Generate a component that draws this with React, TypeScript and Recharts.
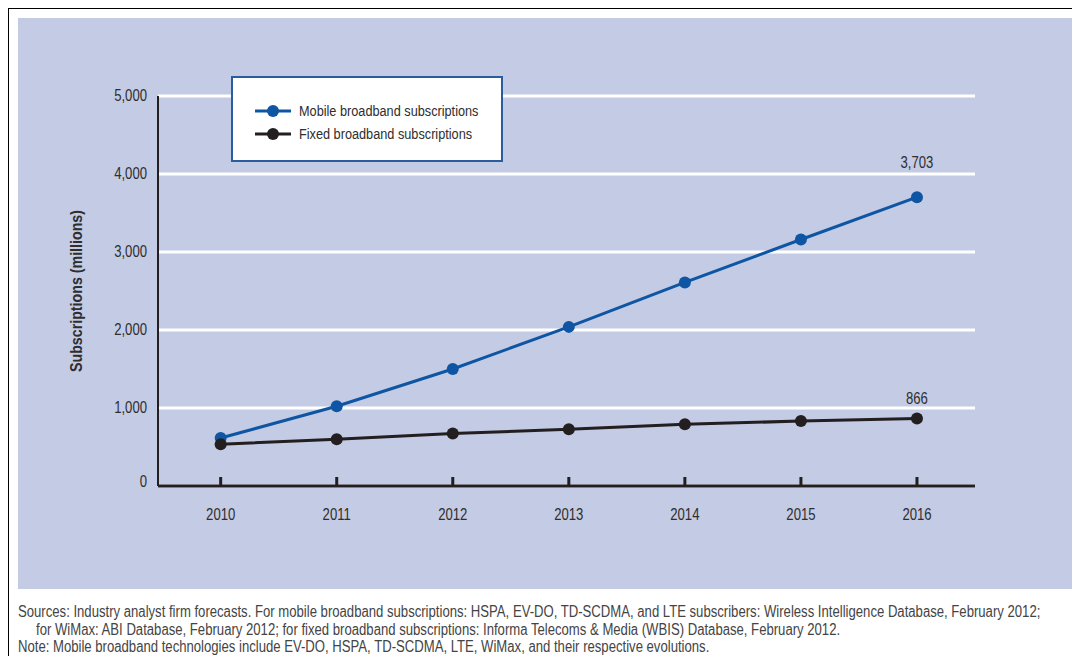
import React from 'react';
import { LineChart, Line, XAxis, YAxis, CartesianGrid } from 'recharts';

// Broadband subscriptions forecast, in millions
const years = [2010, 2011, 2012, 2013, 2014, 2015, 2016];
const mobileSubs = [615, 1022, 1500, 2040, 2610, 3160, 3703];
const fixedSubs = [535, 600, 672, 727, 791, 833, 866];
const yTicks = [0, 1000, 2000, 3000, 4000, 5000];

const seriesKeys = ['mobile', 'fixed'];
const seriesNames = ['Mobile broadband subscriptions', 'Fixed broadband subscriptions'];
const seriesColors = ['#0E56A3', '#231F20'];

const yAxisTitle = 'Subscriptions (millions)';

const footnoteLines = [
  'Sources: Industry analyst firm forecasts. For mobile broadband subscriptions: HSPA, EV-DO, TD-SCDMA, and LTE subscribers: Wireless Intelligence Database, February 2012;',
  'for WiMax: ABI Database, February 2012; for fixed broadband subscriptions: Informa Telecoms & Media (WBIS) Database, February 2012.',
  'Note: Mobile broadband technologies include EV-DO, HSPA, TD-SCDMA, LTE, WiMax, and their respective evolutions.',
];

const chartData = years.map((year, i) => ({
  year,
  mobile: mobileSubs[i],
  fixed: fixedSubs[i],
}));

// Arial-metric face squeezed horizontally to get a narrow look
const FONT = '"Liberation Sans", Arial, sans-serif';
const SQUEEZE = 0.82;
const TEXT = '#2E2E2E';
const PANEL = '#C4CBE4';

const fmt = (v: number) => v.toLocaleString('en-US');

type NarrowProps = {
  x: number;
  y: number;
  anchor?: 'start' | 'middle' | 'end';
  size?: number;
  weight?: string;
  rotate?: number;
  squeeze?: number;
  children: React.ReactNode;
};

const NarrowText = ({ x, y, anchor = 'middle', size = 16, weight = 'normal', rotate = 0, squeeze = SQUEEZE, children }: NarrowProps) => (
  <text
    transform={`translate(${x} ${y}) rotate(${rotate}) scale(${squeeze} 1)`}
    x={0}
    y={0}
    textAnchor={anchor}
    dominantBaseline="central"
    fontFamily={FONT}
    fontSize={size}
    fontWeight={weight}
    fill={TEXT}
  >
    {children}
  </text>
);

const YearTick = (props: any) => {
  const { x, y, payload } = props;
  return (
    <g>
      <line x1={x} x2={x} y1={y} y2={y - 9} stroke="#231F20" strokeWidth={3} />
      <NarrowText x={x} y={y + 29}>{payload.value}</NarrowText>
    </g>
  );
};

const ValueTick = (props: any) => {
  const { x, y, payload } = props;
  const shift = payload.value === 0 ? -4 : 0;
  return (
    <NarrowText x={x - 11} y={y + shift} anchor="end">
      {fmt(payload.value)}
    </NarrowText>
  );
};

const AxisTitle = (props: any) => {
  const { viewBox } = props;
  const cx = viewBox.x - 22;
  const cy = viewBox.y + viewBox.height / 2;
  return (
    <NarrowText x={cx} y={cy} rotate={-90} weight="bold" size={16} squeeze={0.89}>
      {yAxisTitle}
    </NarrowText>
  );
};

// Only the final year carries a value label
const endLabel = (lift: number) => (props: any) => {
  const { x, y, index, value } = props;
  if (index !== years.length - 1) return <g />;
  return (
    <NarrowText x={x} y={y - lift}>
      {fmt(value)}
    </NarrowText>
  );
};

const labelLift = [35, 20];

const squeezed: React.CSSProperties = {
  display: 'inline-block',
  whiteSpace: 'nowrap',
  transform: `scaleX(${SQUEEZE})`,
  transformOrigin: 'left center',
};

const LegendBox = () => (
  <div
    style={{
      position: 'absolute',
      left: 231,
      top: 76,
      width: 268,
      height: 82,
      background: '#FFFFFF',
      border: '2px solid #2A5C9E',
      fontFamily: FONT,
      fontSize: 15.5,
      color: TEXT,
    }}
  >
    {seriesNames.map((name, i) => (
      <div
        key={name}
        style={{ position: 'absolute', left: 22, top: 22 + i * 23, height: 22, width: 240, display: 'flex', alignItems: 'center' }}
      >
        <svg width={36} height={14} style={{ marginRight: 8, flex: 'none' }}>
          <line x1={0} x2={36} y1={7} y2={7} stroke={seriesColors[i]} strokeWidth={3} />
          <circle cx={18} cy={7} r={6} fill={seriesColors[i]} />
        </svg>
        <span style={squeezed}>{name}</span>
      </div>
    ))}
  </div>
);

export default function App() {
  return (
    <div style={{ position: 'relative', width: 1080, height: 664, margin: -8, background: '#FFFFFF', overflow: 'hidden' }}>
      <div style={{ position: 'absolute', left: 6, top: 6, width: 3, height: 680, background: '#000' }} />
      <div style={{ position: 'absolute', left: 6, top: 6, width: 1100, height: 3, background: '#000' }} />
      <div style={{ position: 'absolute', left: 18, top: 18, width: 1060, height: 571, background: PANEL }} />
      <div style={{ position: 'absolute', left: 0, top: 0 }}>
        <LineChart width={1080} height={664} data={chartData} margin={{ top: 96, right: 105, bottom: 148, left: 98 }}>
          <CartesianGrid horizontal vertical={false} stroke="#FFFFFF" strokeWidth={3} />
          <XAxis
            dataKey="year"
            type="number"
            domain={[2009.46, 2016.5]}
            ticks={years}
            interval={0}
            height={30}
            tickSize={0}
            tickMargin={0}
            tickLine={false}
            tick={<YearTick />}
            axisLine={{ stroke: '#231F20', strokeWidth: 3 }}
          />
          <YAxis
            type="number"
            domain={[0, 5000]}
            ticks={yTicks}
            interval={0}
            width={60}
            tickSize={0}
            tickMargin={0}
            tickLine={false}
            tick={<ValueTick />}
            axisLine={{ stroke: '#231F20', strokeWidth: 2 }}
            label={{ content: <AxisTitle /> }}
          />
          {seriesKeys.map((key, i) => (
            <Line
              key={key}
              dataKey={key}
              name={seriesNames[i]}
              type="linear"
              stroke={seriesColors[i]}
              strokeWidth={3}
              dot={{ r: 6, fill: seriesColors[i], stroke: seriesColors[i], strokeWidth: 0 }}
              activeDot={false}
              isAnimationActive={false}
              label={endLabel(labelLift[i])}
            />
          ))}
        </LineChart>
      </div>
      <LegendBox />
      <div style={{ position: 'absolute', left: 18, top: 603, fontFamily: FONT, fontSize: 16, color: '#444444', lineHeight: '18px' }}>
        <div><span style={squeezed}>{footnoteLines[0]}</span></div>
        <div style={{ paddingLeft: 18 }}><span style={squeezed}>{footnoteLines[1]}</span></div>
        <div style={{ marginTop: -1 }}><span style={squeezed}>{footnoteLines[2]}</span></div>
      </div>
    </div>
  );
}
